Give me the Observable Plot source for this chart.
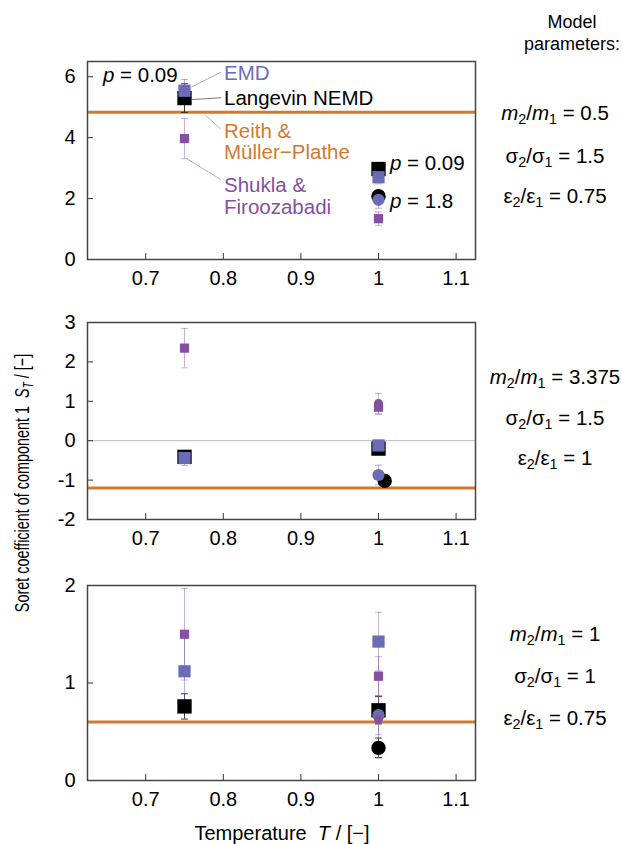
<!DOCTYPE html>
<html>
<head>
<meta charset="utf-8">
<script src="https://cdn.jsdelivr.net/npm/d3@7"></script>
<script src="https://cdn.jsdelivr.net/npm/@observablehq/plot@0.6"></script>
<style>
  html, body { margin: 0; padding: 0; background: #fff; }
  #wrap { position: relative; width: 622px; height: 844px; overflow: hidden;
          font-family: "Liberation Sans", Arial, Helvetica, sans-serif; color: #000; }
  #wrap svg { position: absolute; left: 0; overflow: visible; }
  .t { position: absolute; white-space: nowrap; font-size: 20.5px; line-height: 1; transform: translateY(-50%); }
  .c { transform: translate(-50%, -50%); }
  sub { font-size: 0.7em; vertical-align: -0.3em; line-height: 0; }
</style>
</head>
<body>
<div id="wrap"></div>
<script>
// ---------------- data ----------------
const xTicks = [0.7, 0.8, 0.9, 1, 1.1];
const xDomain = [0.625, 1.125];

// Panel A: m2/m1 = 0.5, σ2/σ1 = 1.5, ε2/ε1 = 0.75
const A_yTicks = [0, 2, 4, 6];
const A_nemd = [
  {T: 0.75, S: 5.30, e: 0.47, p: "0.09"},
  {T: 1.00, S: 2.97, e: 0.10, p: "0.09"},
  {T: 1.00, S: 2.08, e: 0.10, p: "1.8"}
];
const A_emd = [
  {T: 0.75, S: 5.54, e: 0.37, p: "0.09"},
  {T: 1.00, S: 2.70, e: 0.22, p: "0.09"},
  {T: 1.00, S: 1.96, e: 0.28, p: "1.8"}
];
const A_shukla = [
  {T: 0.75, S: 3.97, e: 0.66, p: "0.09"},
  {T: 1.00, S: 1.34, e: 0.22, p: "0.09"}
];
const A_reith = [4.83];

// Panel B: m2/m1 = 3.375, σ2/σ1 = 1.5, ε2/ε1 = 1
const B_yTicks = [-2, -1, 0, 1, 2, 3];
const B_nemd = [
  {T: 0.75, S: -0.41, e: 0.12, p: "0.09"},
  {T: 1.00, S: -0.20, e: 0.10, p: "0.09"},
  {T: 1.008, S: -1.02, e: 0.05, p: "1.8"}
];
const B_emd = [
  {T: 0.75, S: -0.44, e: 0.19, p: "0.09"},
  {T: 1.00, S: -0.12, e: 0.10, p: "0.09"},
  {T: 1.00, S: -0.87, e: 0.25, p: "1.8"}
];
const B_shukla = [
  {T: 0.75, S: 2.35, e: 0.50, p: "0.09"},
  {T: 1.00, S: 0.85, e: 0.18, p: "0.09"},
  {T: 1.00, S: 0.94, e: 0.26, p: "1.8"}
];
const B_reith = [-1.2];

// Panel C: m2/m1 = 1, σ2/σ1 = 1, ε2/ε1 = 0.75
const C_yTicks = [0, 1, 2];
const C_nemd = [
  {T: 0.75, S: 0.76, e: 0.13, p: "0.09"},
  {T: 1.00, S: 0.72, e: 0.14, p: "0.09"},
  {T: 1.00, S: 0.335, e: 0.10, p: "1.8"}
];
const C_emd = [
  {T: 0.75, S: 1.12, e: 0.35, p: "0.09"},
  {T: 1.00, S: 1.425, e: 0.30, p: "0.09"},
  {T: 1.00, S: 0.67, e: 0.20, p: "1.8"}
];
const C_shukla = [
  {T: 0.75, S: 1.50, e: 0.47, p: "0.09"},
  {T: 1.00, S: 1.07, e: 0.20, p: "0.09"},
  {T: 1.00, S: 0.63, e: 0.40, p: "1.8"}
];
const C_reith = [0.6];

// leader lines of the legend annotations in panel A (data coordinates)
const A_leaders = [
  {x1: 0.759, y1: 5.66, x2: 0.797, y2: 6.15, who: "emd"},
  {x1: 0.760, y1: 5.25, x2: 0.797, y2: 5.31, who: "nemd"},
  {x1: 0.777, y1: 4.73, x2: 0.797, y2: 4.28, who: "reith"},
  {x1: 0.753, y1: 3.31, x2: 0.797, y2: 2.62, who: "shukla"}
];

// ---------------- styling ----------------
const COL = {nemd: "#000000", emd: "#6a6db6", shukla: "#8450a0", reith: "#d07a2e"};
const BAR = {nemd: "#222222", emd: "#6a6db6", shukla: "#8450a0"};
const BAROP = {nemd: 0.9, emd: 0.5, shukla: 0.45};
const LEAD = {emd: "#a9abdc", nemd: "#777777", reith: "#e6ad7c", shukla: "#c3a3d6"};
const SIZE = {
  nemd: {sq: 8.1, ci: 7.2},
  emd: {sq: 6.9, ci: 6.1},
  shukla: {sq: 5.2, ci: 4.6}
};
const capSymbol = {
  draw(ctx, size) { const w = Math.sqrt(size / Math.PI); ctx.moveTo(-w, 0); ctx.lineTo(w, 0); }
};

const FL = 87, FR = 475, W = 480, MT = 10, MB = 40;
const wrap = document.getElementById("wrap");

function seriesMarks(data, who) {
  const sq = data.filter(d => d.p === "0.09");
  const ci = data.filter(d => d.p === "1.8");
  return [
    Plot.dot(sq, {x: "T", y: "S", symbol: "square", r: SIZE[who].sq, fill: COL[who], stroke: "none"}),
    Plot.dot(ci, {x: "T", y: "S", symbol: "circle", r: SIZE[who].ci, fill: COL[who], stroke: "none"})
  ];
}
function barMarks(data, who) {
  const o = {stroke: BAR[who], strokeOpacity: BAROP[who], strokeWidth: 1};
  return [
    Plot.ruleX(data, {x: "T", y1: d => d.S - d.e, y2: d => d.S + d.e, ...o}),
    Plot.dot(data, {x: "T", y: d => d.S - d.e, symbol: capSymbol, r: 3.5, fill: "none", ...o}),
    Plot.dot(data, {x: "T", y: d => d.S + d.e, symbol: capSymbol, r: 3.5, fill: "none", ...o})
  ];
}

function panel({nemd, emd, shukla, reith, yDomain, yTicks, zero, frameTop, frameH, leaders}) {
  const fw = FR - FL;
  const svg = Plot.plot({
    width: W, height: MT + frameH + MB,
    marginLeft: FL, marginRight: W - FR, marginTop: MT, marginBottom: MB,
    x: {domain: xDomain, label: null},
    y: {domain: yDomain, label: null},
    style: {fontFamily: '"Liberation Sans", Arial, sans-serif', fontSize: "20px", color: "#000", background: "transparent", overflow: "visible"},
    marks: [
      zero ? Plot.ruleY([0], {stroke: "#bbbbbb", strokeWidth: 1}) : null,
      Plot.ruleY(reith, {stroke: COL.reith, strokeWidth: 3}),
      leaders ? Plot.link(leaders, {x1: "x1", y1: "y1", x2: "x2", y2: "y2", stroke: d => LEAD[d.who], strokeWidth: 1}) : null,
      ...barMarks(nemd, "nemd"),
      ...barMarks(emd, "emd"),
      ...barMarks(shukla, "shukla"),
      ...seriesMarks(nemd, "nemd"),
      ...seriesMarks(emd, "emd"),
      ...seriesMarks(shukla, "shukla"),
      Plot.tickX(xTicks, {x: d => d, insetTop: frameH - 6, stroke: "#333", strokeWidth: 1}),
      Plot.tickY(yTicks, {y: d => d, insetRight: fw - 6, stroke: "#333", strokeWidth: 1}),
      Plot.axisX(xTicks, {tickSize: 0, tickPadding: 11, tickFormat: d => String(d), fontSize: 20}),
      Plot.axisY(yTicks, {tickSize: 0, tickPadding: 12, tickFormat: d => String(d), fontSize: 20}),
      Plot.frame({stroke: "#444", strokeWidth: 1.5})
    ]
  });
  svg.style.top = (frameTop - MT) + "px";
  wrap.appendChild(svg);
}

panel({nemd: A_nemd, emd: A_emd, shukla: A_shukla, reith: A_reith, yDomain: [0, 6.5], yTicks: A_yTicks,
       zero: false, frameTop: 61, frameH: 198, leaders: A_leaders});
panel({nemd: B_nemd, emd: B_emd, shukla: B_shukla, reith: B_reith, yDomain: [-2, 3], yTicks: B_yTicks,
       zero: true, frameTop: 322, frameH: 197});
panel({nemd: C_nemd, emd: C_emd, shukla: C_shukla, reith: C_reith, yDomain: [0, 2], yTicks: C_yTicks,
       zero: false, frameTop: 585, frameH: 195});

// ---------------- text overlays ----------------
function txt(html, x, y, cls = "", style = "") {
  const d = document.createElement("div");
  d.className = "t " + cls;
  d.style.left = x + "px"; d.style.top = y + "px";
  if (style) d.style.cssText += style;
  d.innerHTML = html;
  wrap.appendChild(d);
}
// annotations in panel A
txt("<i>p</i> = 0.09", 103, 75);
txt("EMD", 224, 73, "", "color:" + COL.emd);
txt("Langevin NEMD", 224, 98);
txt("Reith &amp;", 224, 131, "", "color:" + COL.reith);
txt("Müller−Plathe", 224, 152, "", "color:" + COL.reith);
txt("Shukla &amp;", 224, 185, "", "color:" + COL.shukla);
txt("Firoozabadi", 224, 207, "", "color:" + COL.shukla);
txt("<i>p</i> = 0.09", 390, 163);
txt("<i>p</i> = 1.8", 390, 201);

// model parameters
txt("Model", 572, 22, "c", "font-size:18px");
txt("parameters:", 572, 44, "c", "font-size:18px");
const params = [
  {y: [113, 156, 196], m: "0.5", s: "1.5", e: "0.75"},
  {y: [377, 418, 458], m: "3.375", s: "1.5", e: "1"},
  {y: [634, 676, 718], m: "1", s: "1", e: "0.75"}
];
params.forEach(p => {
  txt(`<i>m</i><sub>2</sub>/<i>m</i><sub>1</sub> = ${p.m}`, 555, p.y[0], "c");
  txt(`σ<sub>2</sub>/σ<sub>1</sub> = ${p.s}`, 555, p.y[1], "c");
  txt(`ε<sub>2</sub>/ε<sub>1</sub> = ${p.e}`, 555, p.y[2], "c");
});

// axis titles
txt("Temperature&nbsp;&nbsp;<i>T</i> / [−]", 282, 833, "c", "font-size:20px");
txt("Soret coefficient of component 1&nbsp;&nbsp;<i>S</i><sub><i>T</i></sub> / [−]", 22, 483, "",
    "transform: translate(-50%, -50%) rotate(-90deg) scaleX(0.72); font-size:20px");
</script>
</body>
</html>
